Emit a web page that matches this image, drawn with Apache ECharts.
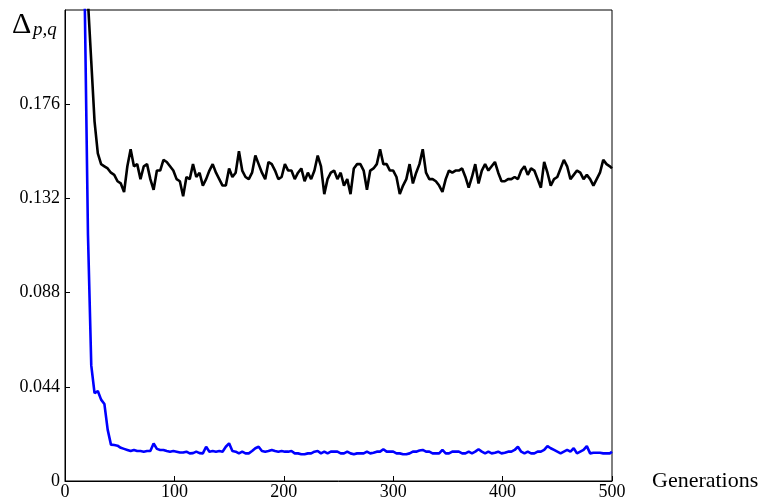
<!DOCTYPE html>
<html>
<head>
<meta charset="utf-8">
<title>Delta p,q over generations</title>
<script src="https://cdn.jsdelivr.net/npm/echarts@6/dist/echarts.min.js"></script>
<style>
  html, body { margin: 0; padding: 0; background: #fff; }
  #chart { width: 765px; height: 501px; }
</style>
</head>
<body>
<div id="chart"></div>
<script>
// one value every 3 generations, last one at generation 500
var genStep = 3
var genMax = 500
var yMax = 0.22
var yTickStep = 0.044
var xTickStep = 100

var blackVals = [
  0.50, 0.45, 0.40, 0.35, 0.30, 0.26, 0.235, 0.224, 0.196, 0.168,
  0.153, 0.148, 0.147, 0.146, 0.144, 0.143, 0.140, 0.139, 0.135, 0.147,
  0.155, 0.147, 0.148, 0.141, 0.147, 0.148, 0.141, 0.136, 0.145, 0.145,
  0.150, 0.149, 0.147, 0.145, 0.141, 0.140, 0.133, 0.142, 0.141, 0.148,
  0.142, 0.144, 0.138, 0.141, 0.145, 0.148, 0.144, 0.141, 0.138, 0.138,
  0.146, 0.142, 0.144, 0.154, 0.145, 0.142, 0.141, 0.144, 0.152, 0.148,
  0.144, 0.141, 0.149, 0.148, 0.145, 0.141, 0.142, 0.148, 0.145, 0.145,
  0.141, 0.144, 0.146, 0.140, 0.144, 0.141, 0.145, 0.152, 0.147, 0.134,
  0.141, 0.144, 0.145, 0.141, 0.144, 0.138, 0.141, 0.134, 0.146, 0.148,
  0.148, 0.145, 0.136, 0.145, 0.146, 0.148, 0.155, 0.148, 0.148, 0.145,
  0.145, 0.142, 0.134, 0.138, 0.141, 0.148, 0.139, 0.144, 0.148, 0.155,
  0.144, 0.141, 0.141, 0.140, 0.138, 0.135, 0.141, 0.145, 0.144, 0.145,
  0.145, 0.146, 0.142, 0.137, 0.142, 0.148, 0.139, 0.145, 0.148, 0.145,
  0.147, 0.149, 0.144, 0.140, 0.140, 0.141, 0.141, 0.142, 0.141, 0.145,
  0.147, 0.143, 0.146, 0.145, 0.141, 0.137, 0.149, 0.144, 0.138, 0.141,
  0.142, 0.146, 0.150, 0.147, 0.141, 0.143, 0.145, 0.144, 0.141, 0.143,
  0.141, 0.138, 0.141, 0.144, 0.150, 0.148, 0.147, 0.146
]

var blueVals = [
  0.60, 0.55, 0.50, 0.45, 0.38, 0.30, 0.226, 0.115, 0.054, 0.041,
  0.042, 0.038, 0.036, 0.024, 0.017, 0.0168, 0.0165, 0.0155, 0.015, 0.0145,
  0.014, 0.0145, 0.014, 0.014, 0.0137, 0.014, 0.014, 0.0175, 0.015, 0.0145,
  0.0145, 0.014, 0.0137, 0.014, 0.0137, 0.0133, 0.0133, 0.0137, 0.0129, 0.013,
  0.0137, 0.013, 0.0129, 0.016, 0.0137, 0.014, 0.0137, 0.014, 0.0137, 0.016,
  0.0176, 0.014, 0.0137, 0.0129, 0.0137, 0.0129, 0.0129, 0.014, 0.0153, 0.016,
  0.014, 0.0137, 0.014, 0.0145, 0.014, 0.0137, 0.014, 0.0137, 0.0137, 0.014,
  0.0129, 0.0129, 0.0125, 0.0125, 0.0129, 0.0129, 0.0137, 0.014, 0.0129, 0.0137,
  0.0129, 0.0137, 0.0137, 0.0137, 0.0129, 0.0129, 0.0137, 0.0129, 0.0125, 0.0129,
  0.0129, 0.0129, 0.0137, 0.0129, 0.0132, 0.0137, 0.0137, 0.0148, 0.0137, 0.0137,
  0.0137, 0.0129, 0.0129, 0.0125, 0.0125, 0.0129, 0.0137, 0.0137, 0.0142, 0.0145,
  0.0137, 0.0137, 0.0129, 0.0129, 0.0129, 0.0145, 0.0129, 0.0129, 0.0137, 0.0137,
  0.0137, 0.0129, 0.0129, 0.0137, 0.0129, 0.0137, 0.0148, 0.0137, 0.0129, 0.0137,
  0.0129, 0.0132, 0.0137, 0.0129, 0.0132, 0.0137, 0.0137, 0.0145, 0.016, 0.0137,
  0.0129, 0.0137, 0.0129, 0.0129, 0.0137, 0.0137, 0.0145, 0.0163, 0.0153, 0.0145,
  0.0137, 0.0129, 0.0137, 0.0145, 0.0137, 0.0153, 0.0129, 0.0137, 0.0145, 0.0163,
  0.0129, 0.0132, 0.0132, 0.0132, 0.0129, 0.0129, 0.0129, 0.0137
]

var serif = '"Liberation Serif", "DejaVu Serif", serif'

function toPairs(vals) {
  return vals.map(function (v, i) {
    return [Math.min(i * genStep, genMax), v]
  })
}

var chart = echarts.init(document.getElementById('chart'))

var option = {
  animation: false,
  backgroundColor: '#fff',
  grid: {
    left: 65,
    right: 153,
    top: 10,
    bottom: 20,
    show: true,
    borderColor: '#000',
    borderWidth: 1
  },
  xAxis: {
    type: 'value',
    min: 0,
    max: genMax,
    interval: xTickStep,
    axisLine: { lineStyle: { color: '#000', width: 1 } },
    axisTick: { inside: true, length: 5, lineStyle: { color: '#000' } },
    axisLabel: { color: '#000', fontFamily: serif, fontSize: 18, margin: 2 },
    splitLine: { show: false },
    name: 'Generations',
    nameLocation: 'end',
    nameGap: 40,
    nameTextStyle: {
      color: '#000',
      fontFamily: serif,
      fontSize: 22,
      align: 'left',
      verticalAlign: 'middle'
    }
  },
  yAxis: {
    type: 'value',
    min: 0,
    max: yMax,
    interval: yTickStep,
    axisLine: { lineStyle: { color: '#000', width: 1 } },
    axisTick: { inside: true, length: 5, lineStyle: { color: '#000' } },
    axisLabel: {
      color: '#000',
      fontFamily: serif,
      fontSize: 18,
      margin: 5,
      showMaxLabel: false,
      formatter: function (v) {
        return v === 0 ? '0' : v.toFixed(3)
      }
    },
    splitLine: { show: false }
  },
  graphic: [
    {
      type: 'text',
      left: 12,
      top: 10,
      style: { text: 'Δ', fill: '#000', font: '30px ' + serif }
    },
    {
      type: 'text',
      left: 33,
      top: 20,
      style: { text: 'p,q', fill: '#000', font: 'italic 19px ' + serif }
    }
  ],
  series: [
    {
      name: 'black',
      type: 'line',
      data: toPairs(blackVals),
      showSymbol: false,
      clip: true,
      lineStyle: { color: '#000', width: 2.6 }
    },
    {
      name: 'blue',
      type: 'line',
      data: toPairs(blueVals),
      showSymbol: false,
      clip: true,
      lineStyle: { color: '#0000ff', width: 2.6 }
    }
  ]
}

chart.setOption(option)
</script>
</body>
</html>
